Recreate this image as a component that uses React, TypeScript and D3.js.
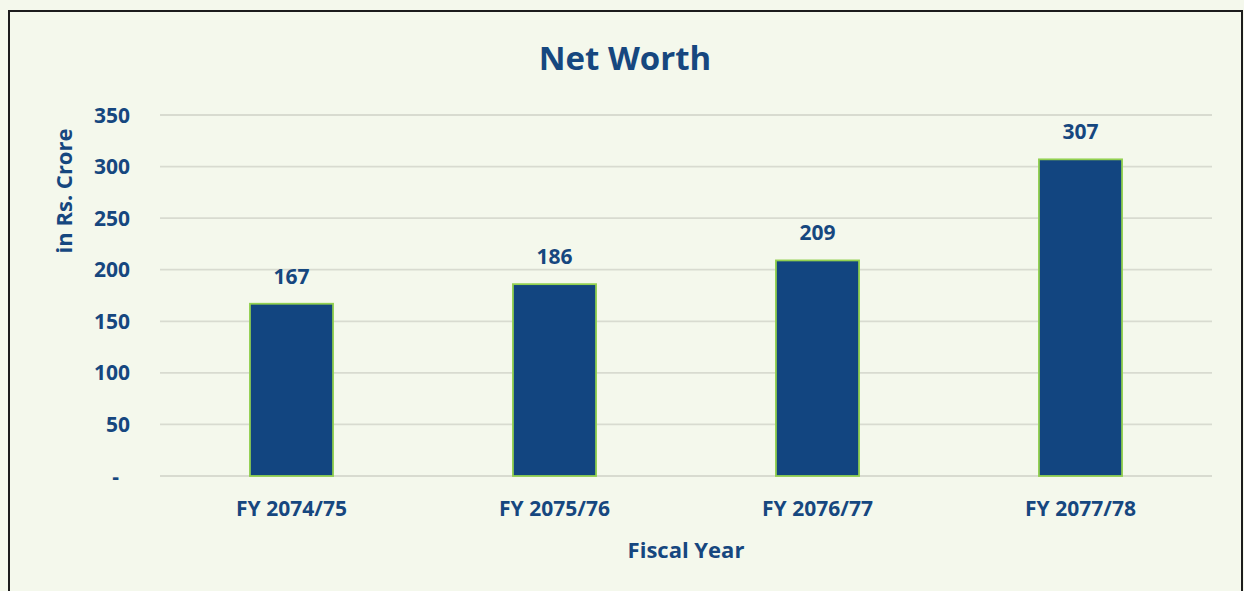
import React, { useEffect } from "react";
import * as d3 from "d3";

const categories = ["FY 2074/75", "FY 2075/76", "FY 2076/77", "FY 2077/78"];
const values = [167, 186, 209, 307];
const yTicks = [0, 50, 100, 150, 200, 250, 300, 350];
const title = "Net Worth";
const xTitle = "Fiscal Year";
const yTitle = "in Rs. Crore";

const W = 1244;
const H = 591;
const BG = "#f4f8ec";
const TXT = "#16477f";
const BAR = "#124580";
const BAR_STROKE = "#92d050";
const GRID = "#d8dbd0";
const FONT = "'Open Sans', Lato, sans-serif";

export default function App() {
  useEffect(() => {
    document.body.style.margin = "0";
    document.body.style.background = BG;
  }, []);

  const x = d3
    .scaleBand<string>()
    .domain(categories)
    .range([160, 1212])
    .paddingInner(0.684)
    .paddingOuter(0.342);
  const y = d3.scaleLinear().domain([0, 350]).range([476, 115]);

  return (
    <svg width={W} height={H} style={{ display: "block" }} fontFamily={FONT}>
      <rect x={0} y={0} width={W} height={H} fill={BG} />
      <rect x={9} y={11} width={1233} height={620} fill="none" stroke="#1c1c1c" strokeWidth={2} />
      <text x={625} y={70} textAnchor="middle" fontSize={33} fontWeight={700} fill={TXT}>
        {title}
      </text>
      {yTicks.map((t) => (
        <g key={t}>
          <line x1={160} x2={1212} y1={y(t)} y2={y(t)} stroke={GRID} strokeWidth={1.8} />
          <text
            x={t === 0 ? 119 : 130}
            y={y(t) + 7.5}
            textAnchor="end"
            fontSize={21}
            fontWeight={700}
            fill={TXT}
          >
            {t === 0 ? "-" : d3.format("d")(t)}
          </text>
        </g>
      ))}
      {categories.map((c, i) => (
        <g key={c}>
          <rect
            x={x(c)!}
            y={y(values[i])}
            width={x.bandwidth()}
            height={y(0) - y(values[i])}
            fill={BAR}
            stroke={BAR_STROKE}
            strokeWidth={1.8}
          />
          <text
            x={x(c)! + x.bandwidth() / 2}
            y={y(values[i]) - 20}
            textAnchor="middle"
            fontSize={21}
            fontWeight={700}
            fill={TXT}
          >
            {values[i]}
          </text>
          <text
            x={x(c)! + x.bandwidth() / 2}
            y={516}
            textAnchor="middle"
            fontSize={21}
            fontWeight={700}
            fill={TXT}
          >
            {c}
          </text>
        </g>
      ))}
      <text x={686} y={558} textAnchor="middle" fontSize={22} fontWeight={700} fill={TXT}>
        {xTitle}
      </text>
      <text
        transform={`translate(72,191) rotate(-90)`}
        textAnchor="middle"
        fontSize={22}
        fontWeight={700}
        fill={TXT}
      >
        {yTitle}
      </text>
    </svg>
  );
}
